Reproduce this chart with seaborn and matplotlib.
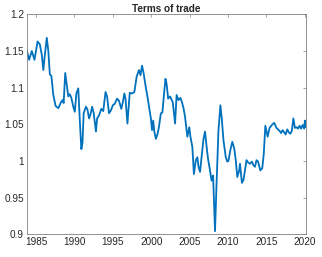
import numpy as np
import pandas as pd
import seaborn as sns
import matplotlib
matplotlib.use("Agg")
import matplotlib.pyplot as plt

# terms of trade
years = [1983.80, 1984.10, 1984.45, 1984.80, 1985.20, 1985.50, 1985.75, 1985.95, 1986.10, 1986.40,
         1986.60, 1986.80, 1987.00, 1987.25, 1987.55, 1987.90, 1988.25, 1988.45, 1988.60, 1988.80,
         1989.00, 1989.20, 1989.40, 1989.60, 1989.85, 1990.05, 1990.25, 1990.50, 1990.70, 1990.90,
         1991.05, 1991.20, 1991.50, 1991.70, 1991.90, 1992.10, 1992.30, 1992.50, 1992.80, 1992.95,
         1993.20, 1993.50, 1993.75, 1994.05, 1994.25, 1994.50, 1994.75, 1995.00, 1995.25, 1995.55,
         1995.80, 1996.10, 1996.30, 1996.50, 1996.65, 1996.90, 1997.20, 1997.50, 1997.80, 1998.10,
         1998.40, 1998.60, 1998.80, 1999.00, 1999.25, 1999.50, 1999.75, 1999.95, 2000.10, 2000.25,
         2000.40, 2000.60, 2000.80, 2001.00, 2001.25, 2001.45, 2001.65, 2001.85, 2002.00, 2002.20,
         2002.45, 2002.80, 2003.10, 2003.30, 2003.55, 2003.80, 2004.00, 2004.20, 2004.40, 2004.70,
         2004.95, 2005.10, 2005.35, 2005.55, 2005.80, 2006.00, 2006.15, 2006.35, 2006.55, 2006.80,
         2007.00, 2007.20, 2007.40, 2007.60, 2007.85, 2008.05, 2008.30, 2008.50, 2008.75, 2009.00,
         2009.20, 2009.40, 2009.70, 2009.90, 2010.05, 2010.30, 2010.55, 2010.80, 2011.00, 2011.20,
         2011.45, 2011.55, 2011.80, 2012.00, 2012.20, 2012.40, 2012.60, 2012.85, 2013.10, 2013.30,
         2013.50, 2013.70, 2013.90, 2014.20, 2014.45, 2014.65, 2014.85, 2015.15, 2015.40, 2015.70,
         2016.00, 2016.30, 2016.50, 2016.70, 2016.90, 2017.10, 2017.30, 2017.50, 2017.70, 2017.90,
         2018.10, 2018.30, 2018.50, 2018.70, 2018.90, 2019.10, 2019.30, 2019.50, 2019.70, 2019.90,
         2020.00, 2020.10]
tot = [1.151, 1.138, 1.150, 1.138, 1.163, 1.159, 1.145, 1.124, 1.140, 1.168,
       1.150, 1.118, 1.116, 1.090, 1.075, 1.072, 1.080, 1.083, 1.079, 1.120,
       1.104, 1.088, 1.091, 1.086, 1.074, 1.067, 1.092, 1.099, 1.055, 1.016,
       1.025, 1.065, 1.074, 1.070, 1.058, 1.064, 1.074, 1.066, 1.040, 1.058,
       1.062, 1.071, 1.068, 1.094, 1.088, 1.065, 1.069, 1.076, 1.078, 1.085,
       1.082, 1.071, 1.080, 1.092, 1.085, 1.051, 1.093, 1.092, 1.094, 1.115,
       1.124, 1.117, 1.130, 1.120, 1.103, 1.088, 1.071, 1.058, 1.042, 1.055,
       1.040, 1.030, 1.036, 1.046, 1.065, 1.066, 1.090, 1.112, 1.105, 1.085,
       1.088, 1.080, 1.051, 1.090, 1.083, 1.086, 1.080, 1.072, 1.060, 1.033,
       1.046, 1.033, 1.019, 0.982, 1.001, 1.005, 0.992, 0.985, 1.005, 1.030,
       1.040, 1.020, 1.002, 0.990, 0.973, 0.980, 0.904, 0.969, 1.042, 1.076,
       1.055, 1.028, 1.005, 0.999, 1.000, 1.015, 1.026, 1.017, 1.001, 0.978,
       0.987, 0.996, 0.970, 0.974, 0.987, 1.001, 0.998, 0.996, 0.999, 0.994,
       0.992, 1.001, 0.999, 0.987, 0.990, 1.010, 1.048, 1.033, 1.045, 1.049,
       1.052, 1.045, 1.043, 1.041, 1.038, 1.042, 1.039, 1.036, 1.043, 1.039,
       1.037, 1.041, 1.058, 1.045, 1.046, 1.044, 1.048, 1.044, 1.049, 1.044,
       1.055, 1.046]

xticks = [1985, 1990, 1995, 2000, 2005, 2010, 2015, 2020]
yticks = [0.9, 0.95, 1.0, 1.05, 1.1, 1.15, 1.2]
ylabels = ['0.9', '0.95', '1', '1.05', '1.1', '1.15', '1.2']

df = pd.DataFrame({'year': years, 'tot': tot})

sns.set_style("white")
plt.rcParams['font.family'] = ['Liberation Sans', 'DejaVu Sans']

fig = plt.figure(figsize=(3.22, 2.57), dpi=100)
ax = fig.add_axes([0.083, 0.089, 0.867, 0.855])

sns.lineplot(data=df, x='year', y='tot', color='#0072BD', linewidth=1.3, ax=ax)

ax.set_xlim(1983.79, 2020.13)
ax.set_ylim(0.9, 1.2)
ax.set_xticks(xticks)
ax.set_xticklabels([str(t) for t in xticks])
ax.set_yticks(yticks)
ax.set_yticklabels(ylabels)
ax.set_xlabel('')
ax.set_ylabel('')
ax.tick_params(direction='in', length=2.5, width=0.5, colors='#808080',
               labelcolor='#262626', labelsize=7.2, top=True, right=True, pad=2)
for sp in ax.spines.values():
    sp.set_color('#808080')
    sp.set_linewidth(0.6)
    sp.set_visible(True)
ax.set_title('Terms of trade', fontsize=7.2, fontweight='bold', pad=2)

fig.savefig('out.png', dpi=100)
